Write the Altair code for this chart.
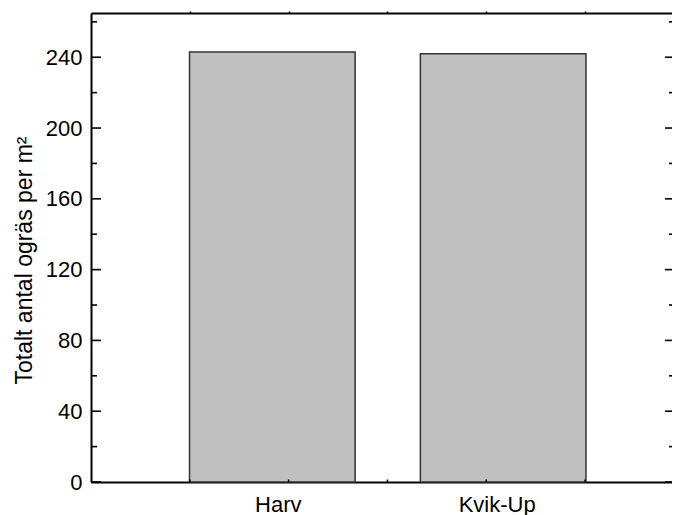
import altair as alt
import pandas as pd

# ---- data ----
categories = ["Harv", "Kvik-Up"]
totals = [243.0, 242.0]
y_label_values = [0, 40, 80, 120, 160, 200, 240]
y_minor_values = [20, 60, 100, 140, 180, 220, 260]
x_minor_values = [1, 2, 3, 4, 5]

Y_MAX = 265
X_MAX = 5.88
W = 581
H = 469
FONT = "Liberation Sans, Arial"
Y_TITLE = "Totalt antal ogräs per m²"

bars_df = pd.DataFrame({"Behandling": categories, "Antal": totals})
major_df = pd.DataFrame({"Antal": y_label_values})
minor_df = pd.DataFrame({"Antal": y_minor_values})
xminor_df = pd.DataFrame({"u": x_minor_values})

yscale = alt.Scale(domain=[0, Y_MAX], nice=False, zero=True)
y_axis = alt.Axis(
    orient="left",
    values=y_label_values,
    ticks=False,
    grid=False,
    domain=True,
    domainColor="black",
    domainWidth=2,
    labelFontSize=22,
    labelFont=FONT,
    labelColor="black",
    labelPadding=9,
    titleFontSize=23,
    titleFont=FONT,
    titleFontWeight="normal",
    titleColor="black",
    titleX=-55,
    titleY=247,
)

bars = alt.Chart(bars_df).mark_bar(
    color="#c0c0c0", stroke="#333333", strokeWidth=1.5
).encode(
    x=alt.X(
        "Behandling:N",
        sort=categories,
        title=None,
        scale=alt.Scale(paddingInner=0.2826, paddingOuter=0.3997, align=0.5338),
        axis=alt.Axis(
            orient="bottom",
            ticks=False,
            domain=True,
            domainColor="black",
            domainWidth=2,
            labelAngle=0,
            labelFontSize=22,
            labelFont=FONT,
            labelColor="black",
            labelPadding=12,
            labelBaseline="top",
            labelOffset={"condition": {"test": "datum.value === 'Harv'", "value": 6}, "value": -6},
        ),
    ),
    y=alt.Y("Antal:Q", scale=yscale, title=Y_TITLE, axis=y_axis),
)


def yrule(df, x1, x2):
    return alt.Chart(df).mark_rule(color="black", strokeWidth=1.6).encode(
        y=alt.Y("Antal:Q", scale=yscale, title=Y_TITLE, axis=y_axis),
        x=alt.value(x1),
        x2=alt.value(x2),
    )


left_major = yrule(major_df, 0, 10)
left_minor = yrule(minor_df, 0, 6)
right_major = yrule(major_df, W - 7, W)
right_minor = yrule(minor_df, W - 3, W)

x_ticks = alt.Chart(xminor_df).mark_rule(color="black", strokeWidth=1.5).encode(
    x=alt.X(
        "u:Q",
        scale=alt.Scale(domain=[0, X_MAX], nice=False, zero=False),
        axis=alt.Axis(
            orient="top",
            values=x_minor_values,
            labels=False,
            tickSize=2,
            tickColor="black",
            tickWidth=1.5,
            domainColor="black",
            domainWidth=2,
            grid=False,
            title=None,
        ),
    ),
    y=alt.value(H - 2.5),
    y2=alt.value(H),
)

chart = (
    alt.layer(bars, left_major, left_minor, right_major, right_minor, x_ticks)
    .resolve_scale(x="independent")
    .properties(
        width=W,
        height=H,
        autosize=alt.AutoSizeParams(type="none"),
        padding={"left": 83, "top": 5, "right": 0, "bottom": 33},
    )
    .configure_view(strokeWidth=0)
    .configure(background="white")
)

chart.save("out.html", embed_options={"renderer": "svg", "actions": False})
